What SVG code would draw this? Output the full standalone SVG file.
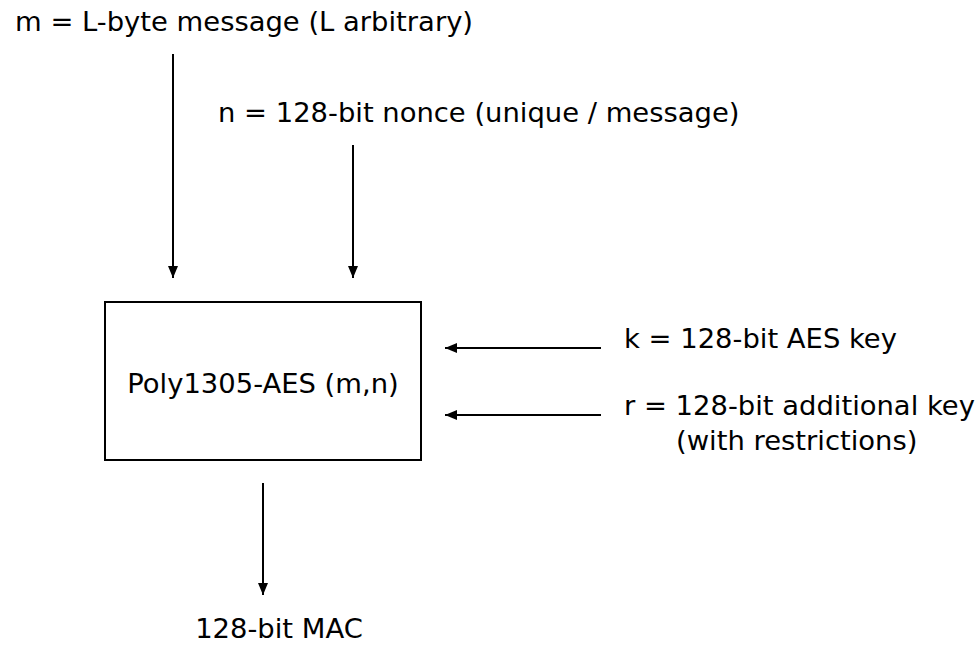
<svg xmlns="http://www.w3.org/2000/svg" width="976" height="645" viewBox="0 0 976 645">
<style>
text{font-family:"DejaVu Sans",sans-serif;font-size:27.4px;fill:#000}
.c{stroke:#000;stroke-width:2;fill:none}
</style>
<defs>
<marker id="ah" viewBox="0 0 12 10" refX="12" refY="5" markerWidth="12" markerHeight="10" markerUnits="userSpaceOnUse" orient="auto">
<path d="M0,0 L12,5 L0,10 Z" fill="#000"/>
</marker>
</defs>
<rect width="976" height="645" fill="#fff"/>
<g id="m"><text x="15" y="31">m = L-byte message (L arbitrary)</text></g>
<g id="n"><text x="218" y="122">n = 128-bit nonce (unique / message)</text></g>
<g id="box"><rect x="105" y="302" width="316" height="158" fill="#fff" stroke="#000" stroke-width="2"/><text x="263" y="393" text-anchor="middle">Poly1305-AES (m,n)</text></g>
<g id="k"><text x="624" y="348">k = 128-bit AES key</text></g>
<g id="r"><text x="624" y="415">r = 128-bit additional key</text><text x="676" y="450">(with restrictions)</text></g>
<g id="mac"><text x="279" y="638" text-anchor="middle">128-bit MAC</text></g>
<g id="connectors">
<line class="c" x1="173" y1="54" x2="173" y2="278" marker-end="url(#ah)"/>
<line class="c" x1="353" y1="145" x2="353" y2="278" marker-end="url(#ah)"/>
<line class="c" x1="601" y1="348" x2="445" y2="348" marker-end="url(#ah)"/>
<line class="c" x1="601" y1="415" x2="445" y2="415" marker-end="url(#ah)"/>
<line class="c" x1="263" y1="483" x2="263" y2="595" marker-end="url(#ah)"/>
</g>
</svg>
